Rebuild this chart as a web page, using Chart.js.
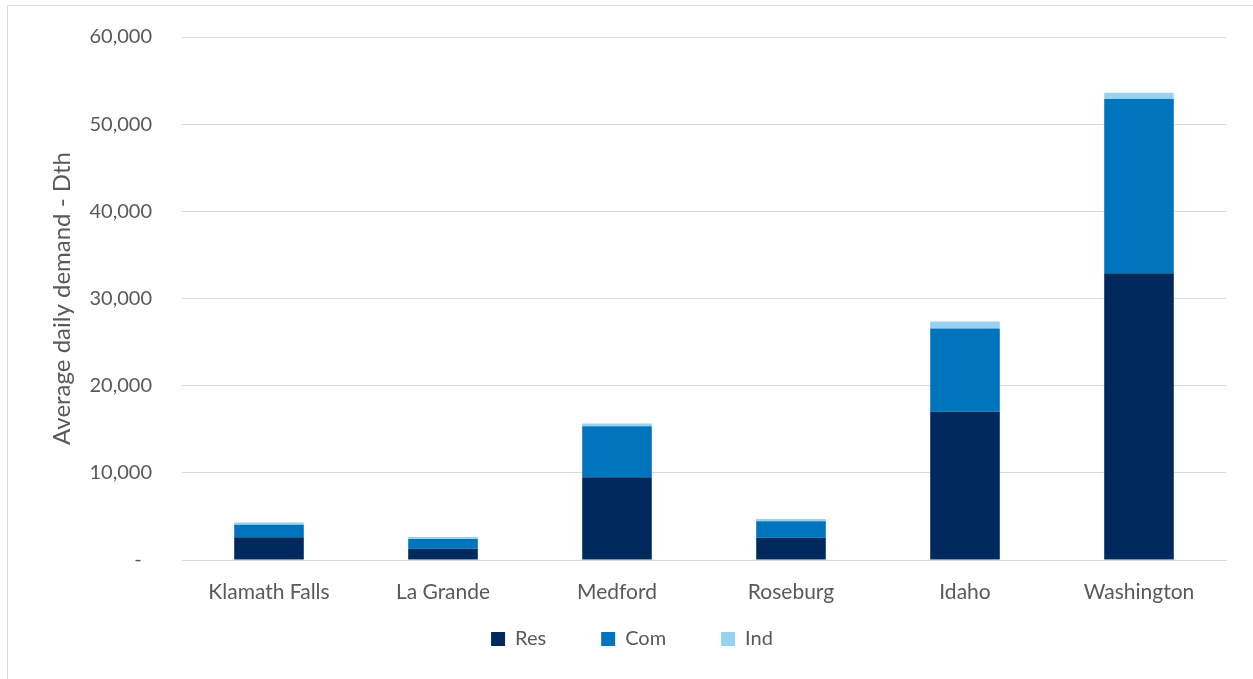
<!DOCTYPE html>
<html>
<head>
<meta charset="utf-8">
<script src="https://cdn.jsdelivr.net/npm/chart.js@4.4.1/dist/chart.umd.min.js"></script>
<style>
  html, body { margin: 0; padding: 0; background: #ffffff; }
  #wrap { position: relative; width: 1253px; height: 679px; }
</style>
</head>
<body>
<div id="wrap"><canvas id="c" width="1253" height="679"></canvas></div>
<script>
const categories = ["Klamath Falls", "La Grande", "Medford", "Roseburg", "Idaho", "Washington"];
const resValues = [2600, 1300, 9500, 2550, 17000, 32900];
const comValues = [1450, 1100, 5850, 1900, 9550, 20000];
const indValues = [250, 250, 300, 250, 800, 700];
const yTickValues = [0, 10000, 20000, 30000, 40000, 50000, 60000];
const seriesNames = ["Res", "Com", "Ind"];
const seriesColors = ["#002A5E", "#0075BE", "#98D2F3"];
const yTitle = "Average daily demand - Dth";

const FONT = "Lato";
const TEXT = "#595959";

const frame = {
  id: "frame",
  beforeDraw(chart) {
    const ctx = chart.ctx;
    ctx.save();
    ctx.strokeStyle = "#D9D9D9";
    ctx.lineWidth = 1;
    ctx.beginPath();
    ctx.moveTo(7.5, 700);
    ctx.lineTo(7.5, 5.5);
    ctx.lineTo(1300, 5.5);
    ctx.stroke();
    ctx.restore();
  }
};

const legendShift = {
  id: "legendShift",
  afterLayout(chart) {
    const lg = chart.legend;
    if (lg) {
      lg.top = chart.chartArea.bottom + 14;
      lg.height = 100;
      lg.bottom = lg.top + lg.height;
      lg.left -= 5;
      lg.right -= 5;
    }
  }
};

new Chart(document.getElementById("c"), {
  type: "bar",
  data: {
    labels: categories,
    datasets: [
      { label: seriesNames[0], data: resValues, backgroundColor: seriesColors[0] },
      { label: seriesNames[1], data: comValues, backgroundColor: seriesColors[1] },
      { label: seriesNames[2], data: indValues, backgroundColor: seriesColors[2] }
    ]
  },
  options: {
    responsive: false,
    animation: false,
    layout: { padding: { left: 48, right: 27, top: 20, bottom: 14 } },
    datasets: { bar: { categoryPercentage: 1.0, barPercentage: 0.4 } },
    plugins: {
      legend: {
        position: "bottom",
        maxHeight: 60,
        labels: {
          font: { family: FONT, size: 20 },
          color: TEXT,
          boxWidth: 14,
          boxHeight: 14,
          padding: 55
        }
      },
      tooltip: { enabled: false }
    },
    scales: {
      x: {
        stacked: true,
        grid: { display: false, drawTicks: false },
        border: { display: true, color: "#D9D9D9", width: 1 },
        ticks: { font: { family: FONT, size: 21 }, color: TEXT, padding: 20, maxRotation: 0 },
        afterFit(s) { s.height = 45; }
      },
      y: {
        stacked: true,
        min: 0,
        max: 60000,
        afterBuildTicks(s) { s.ticks = yTickValues.map(v => ({ value: v })); },
        grid: { color: "#D9D9D9", lineWidth: 1, drawTicks: false },
        border: { display: false },
        ticks: {
          font: { family: FONT, size: 20, lineHeight: 0.7 },
          color: TEXT,
          padding: 30,
          callback(v) { return v === 0 ? "-  " : v.toLocaleString("en-US"); }
        },
        title: {
          display: true,
          text: yTitle,
          font: { family: FONT, size: 24 },
          color: TEXT,
          padding: 0
        },
        afterFit(s) { s.width = 134; }
      }
    }
  },
  plugins: [frame, legendShift]
});
</script>
</body>
</html>
